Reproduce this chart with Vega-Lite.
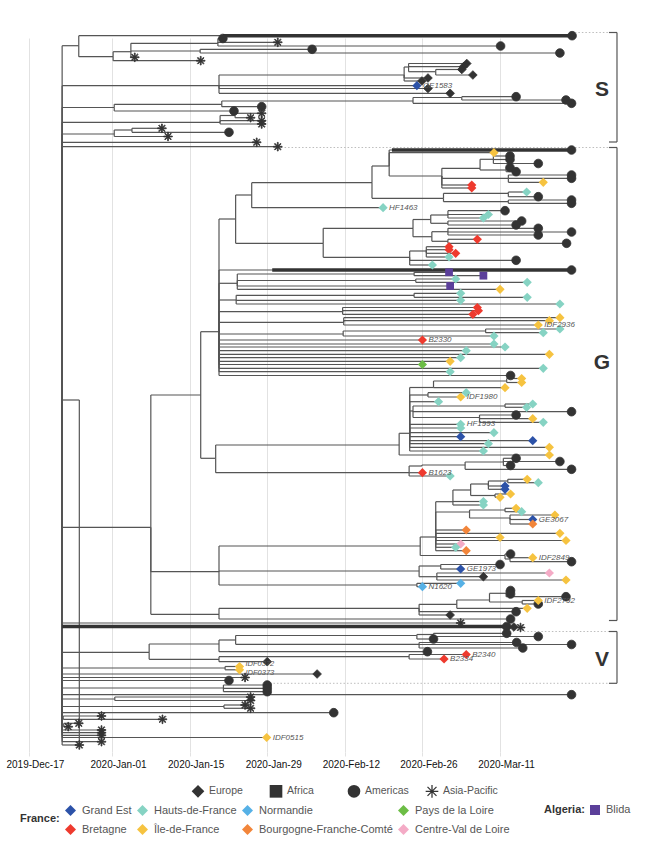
{
"$schema": "https://vega.github.io/schema/vega-lite/v6.json",
"width": 662, "height": 714,
"padding": {"left": 0, "top": 38, "right": 0, "bottom": 96},
"autosize": {"type": "none"},
"background": "white",
"config": {"view": {"stroke": null}, "font": "Liberation Sans"},
"datasets": {
"nodes": [
{"id":"R","d":6.0,"r":400},
{"id":"A","p":"R","d":9.0,"r":45.7},
{"p":"A","d":98.0,"r":35.7,"c":"Americas"},
{"id":"C","p":"A","d":15.2,"r":56.7},
{"id":"D","p":"C","d":18.4,"r":51.7},
{"id":"E","p":"D","d":34.1,"r":43.3},
{"p":"E","d":35.0,"r":38.5,"c":"Americas"},
{"p":"E","d":44.9,"r":42.3,"c":"Asia-Pacific"},
{"p":"E","d":85.1,"r":46,"c":"Americas"},
{"id":"F","p":"D","d":30.9,"r":51},
{"p":"F","d":51.1,"r":49.3,"c":"Americas"},
{"p":"F","d":95.8,"r":53,"c":"Americas"},
{"p":"D","d":19.1,"r":57.3,"c":"Asia-Pacific"},
{"p":"C","d":31.0,"r":60.7,"c":"Asia-Pacific"},
{"id":"G","p":"R","d":34.3,"r":85.7},
{"id":"H","p":"G","d":67.7,"r":75},
{"id":"I","p":"H","d":68.5,"r":67},
{"p":"I","d":79.0,"r":63.5,"c":"Europe"},
{"p":"I","d":78.4,"r":66.7,"c":"Europe"},
{"id":"J","p":"I","d":73.4,"r":71.7},
{"p":"J","d":78.1,"r":69.5,"c":"Europe"},
{"p":"J","d":80.1,"r":75,"c":"Europe"},
{"p":"H","d":72.0,"r":78,"c":"Europe"},
{"p":"H","d":70.9,"r":81,"c":"Europe"},
{"p":"G","d":70.0,"r":85.7,"c":"Europe","g":"Grand Est","lab":"GE1583"},
{"p":"G","d":72.0,"r":88.5,"c":"Europe"},
{"p":"G","d":76.0,"r":93.3,"c":"Europe"},
{"id":"L","p":"R","d":15.4,"r":107.5},
{"id":"M","p":"L","d":34.8,"r":104.3},
{"id":"K","p":"M","d":69.3,"r":101},
{"id":"K1","p":"K","d":78.1,"r":97.5},
{"p":"K1","d":87.9,"r":96.7,"c":"Americas"},
{"p":"K1","d":96.9,"r":100,"c":"Americas"},
{"p":"K","d":97.9,"r":103.3,"c":"Americas"},
{"p":"M","d":42.0,"r":106.7,"c":"Americas"},
{"p":"L","d":37.0,"r":111,"c":"Americas"},
{"id":"Nn","p":"R","d":34.5,"r":122.3},
{"id":"Nn1","p":"Nn","d":37.2,"r":115.5},
{"p":"Nn1","d":42.0,"r":113.3,"c":"Asia-Pacific"},
{"p":"Nn1","d":40.0,"r":117.7,"c":"Asia-Pacific"},
{"p":"Nn","d":42.0,"r":120.7,"c":"Asia-Pacific"},
{"p":"Nn","d":42.0,"r":124,"c":"Asia-Pacific"},
{"id":"P","p":"R","d":15.4,"r":134},
{"id":"Q","p":"P","d":18.6,"r":130},
{"p":"Q","d":24.0,"r":128.3,"c":"Asia-Pacific"},
{"p":"Q","d":36.1,"r":132.3,"c":"Americas"},
{"p":"P","d":25.1,"r":136.5,"c":"Asia-Pacific"},
{"p":"R","d":41.1,"r":142.3,"c":"Asia-Pacific"},
{"p":"R","d":44.9,"r":146.7,"c":"Asia-Pacific"},
{"id":"G0","p":"R","d":22.0,"r":527.3},
{"id":"G1","p":"G0","d":31.0,"r":395},
{"id":"G2","p":"G1","d":34.3,"r":331.7},
{"id":"G3","p":"G2","d":37.3,"r":219},
{"id":"G4","p":"G3","d":40.2,"r":195},
{"id":"G5","p":"G4","d":61.9,"r":182.7},
{"id":"G5a","p":"G5","d":65.0,"r":166},
{"p":"G5a","d":97.9,"r":150,"c":"Americas"},
{"p":"G5a","d":83.9,"r":152.7,"c":"Europe","g":"Île-de-France"},
{"id":"Na","p":"G5a","d":74.5,"r":176},
{"id":"Nb","p":"Na","d":81.4,"r":168.3},
{"id":"Nb1","p":"Nb","d":83.8,"r":159.3},
{"p":"Nb1","d":86.8,"r":156,"c":"Americas"},
{"p":"Nb1","d":86.8,"r":159.5,"c":"Americas"},
{"p":"Nb1","d":91.9,"r":163.5,"c":"Americas"},
{"id":"Nb2","p":"Nb","d":86.1,"r":170},
{"p":"Nb2","d":86.8,"r":167.5,"c":"Americas"},
{"p":"Nb2","d":87.9,"r":171.7,"c":"Americas"},
{"id":"Nc0","p":"Na","d":86.5,"r":178.3},
{"p":"Nc0","d":97.9,"r":175,"c":"Americas"},
{"p":"Nc0","d":97.9,"r":178.3,"c":"Americas"},
{"p":"Nc0","d":92.8,"r":182.3,"c":"Europe","g":"Île-de-France"},
{"p":"Na","d":79.9,"r":185,"c":"Europe","g":"Bretagne"},
{"p":"Na","d":79.9,"r":188,"c":"Europe","g":"Bretagne"},
{"id":"Nc","p":"G5","d":74.8,"r":198.3},
{"id":"Nd1","p":"Nc","d":86.5,"r":193.3},
{"p":"Nd1","d":89.8,"r":192,"c":"Europe","g":"Hauts-de-France"},
{"p":"Nd1","d":91.9,"r":196.7,"c":"Americas"},
{"id":"Nd2","p":"Nc","d":86.5,"r":201.7},
{"p":"Nd2","d":97.9,"r":200,"c":"Americas"},
{"p":"Nd2","d":97.9,"r":203.3,"c":"Americas"},
{"p":"G4","d":63.9,"r":207.7,"c":"Europe","g":"Hauts-de-France","lab":"HF1463"},
{"id":"G6","p":"G3","d":53.1,"r":243.3},
{"id":"Nd","p":"G6","d":69.3,"r":228.3},
{"id":"Ne","p":"Nd","d":72.5,"r":219.5},
{"id":"Ne1","p":"Ne","d":75.6,"r":215},
{"p":"Ne1","d":85.9,"r":210.7,"c":"Americas"},
{"p":"Ne1","d":82.9,"r":214.5,"c":"Europe","g":"Hauts-de-France"},
{"p":"Ne1","d":82.0,"r":218,"c":"Europe","g":"Hauts-de-France"},
{"id":"Ne2","p":"Ne","d":75.6,"r":223.3},
{"p":"Ne2","d":88.9,"r":221,"c":"Americas"},
{"p":"Ne2","d":87.9,"r":225,"c":"Americas"},
{"id":"Nf","p":"Nd","d":72.7,"r":236.7},
{"id":"Nf1","p":"Nf","d":75.6,"r":231.7},
{"p":"Nf1","d":91.9,"r":228.3,"c":"Americas"},
{"p":"Nf1","d":97.9,"r":232,"c":"Americas"},
{"p":"Nf1","d":91.9,"r":235,"c":"Americas"},
{"id":"Nf2","p":"Nf","d":75.6,"r":241.3},
{"p":"Nf2","d":80.9,"r":239.3,"c":"Europe","g":"Bretagne"},
{"p":"Nf2","d":97.0,"r":243.3,"c":"Americas"},
{"id":"Ng","p":"G6","d":68.7,"r":257.3},
{"id":"Ng1","p":"Ng","d":71.7,"r":251},
{"p":"Ng1","d":75.8,"r":246.7,"c":"Europe","g":"Bretagne"},
{"p":"Ng1","d":75.8,"r":249.7,"c":"Europe","g":"Bretagne"},
{"p":"Ng1","d":77.0,"r":253.3,"c":"Europe","g":"Bretagne"},
{"p":"Ng1","d":75.8,"r":257,"c":"Europe","g":"Hauts-de-France"},
{"p":"Ng","d":87.9,"r":260.3,"c":"Americas"},
{"p":"Ng","d":72.8,"r":265,"c":"Europe","g":"Hauts-de-France"},
{"p":"G2","d":97.9,"r":270,"c":"Americas"},
{"id":"Gb","p":"G2","d":37.6,"r":283.3},
{"id":"Gb1","p":"Gb","d":69.5,"r":274},
{"p":"Gb1","d":75.8,"r":272.3,"c":"Africa","g":"Blida"},
{"p":"Gb1","d":82.0,"r":275.7,"c":"Africa","g":"Blida"},
{"id":"Gb2","p":"Gb","d":69.8,"r":280.5},
{"p":"Gb2","d":77.0,"r":279,"c":"Europe","g":"Hauts-de-France"},
{"p":"Gb2","d":89.9,"r":282.3,"c":"Europe","g":"Hauts-de-France"},
{"p":"Gb","d":76.0,"r":286,"c":"Africa","g":"Blida"},
{"p":"Gb","d":85.0,"r":289.3,"c":"Europe","g":"Île-de-France"},
{"id":"Gc","p":"G2","d":37.4,"r":300},
{"id":"Gc1","p":"Gc","d":69.5,"r":295.3},
{"p":"Gc1","d":77.9,"r":293.3,"c":"Europe","g":"Hauts-de-France"},
{"p":"Gc1","d":89.9,"r":297.3,"c":"Europe","g":"Hauts-de-France"},
{"p":"Gc","d":77.9,"r":300.3,"c":"Europe","g":"Hauts-de-France"},
{"p":"Gc","d":95.8,"r":304,"c":"Europe","g":"Hauts-de-France"},
{"id":"Gd","p":"G2","d":56.6,"r":311.7},
{"p":"Gd","d":80.9,"r":307.5,"c":"Europe","g":"Bretagne"},
{"p":"Gd","d":81.1,"r":310.7,"c":"Europe","g":"Bretagne"},
{"p":"Gd","d":80.1,"r":314.3,"c":"Europe","g":"Bretagne"},
{"id":"Ge","p":"G2","d":56.8,"r":322.3},
{"p":"Ge","d":95.8,"r":317.7,"c":"Europe","g":"Île-de-France"},
{"p":"Ge","d":93.9,"r":320.7,"c":"Europe","g":"Île-de-France"},
{"p":"Ge","d":91.9,"r":325,"c":"Europe","g":"Île-de-France","lab":"IDF2936"},
{"id":"Gf","p":"G2","d":56.7,"r":334},
{"id":"Gf1","p":"Gf","d":82.4,"r":331},
{"p":"Gf1","d":95.8,"r":329,"c":"Europe","g":"Hauts-de-France"},
{"p":"Gf1","d":92.8,"r":332.7,"c":"Europe","g":"Hauts-de-France"},
{"p":"Gf","d":83.9,"r":336,"c":"Europe","g":"Hauts-de-France"},
{"p":"G2","d":71.0,"r":340,"c":"Europe","g":"Bretagne","lab":"B2330"},
{"p":"G2","d":83.9,"r":344,"c":"Europe","g":"Hauts-de-France"},
{"p":"G2","d":85.9,"r":347,"c":"Europe","g":"Hauts-de-France"},
{"p":"G2","d":78.9,"r":350.7,"c":"Europe","g":"Hauts-de-France"},
{"p":"G2","d":93.9,"r":354.3,"c":"Europe","g":"Île-de-France"},
{"p":"G2","d":77.9,"r":357.7,"c":"Europe","g":"Hauts-de-France"},
{"p":"G2","d":76.0,"r":361.3,"c":"Europe","g":"Île-de-France"},
{"p":"G2","d":71.0,"r":364.5,"c":"Europe","g":"Pays de la Loire"},
{"p":"G2","d":92.8,"r":368.3,"c":"Europe","g":"Hauts-de-France"},
{"p":"G2","d":76.0,"r":371.7,"c":"Europe","g":"Hauts-de-France"},
{"p":"G2","d":86.9,"r":375.5,"c":"Americas"},
{"id":"G7","p":"G1","d":33.7,"r":458.3},
{"id":"G7a","p":"G7","d":66.8,"r":445},
{"id":"N1x","p":"G7a","d":68.7,"r":433.3},
{"id":"N1a","p":"N1x","d":73.0,"r":387.5},
{"id":"N1a1","p":"N1a","d":86.2,"r":381},
{"p":"N1a1","d":88.9,"r":378.5,"c":"Europe","g":"Île-de-France"},
{"p":"N1a1","d":88.9,"r":382.5,"c":"Europe","g":"Île-de-France"},
{"p":"N1a","d":85.9,"r":387.7,"c":"Europe","g":"Île-de-France"},
{"id":"N1b","p":"N1x","d":72.0,"r":395},
{"p":"N1b","d":78.9,"r":392.7,"c":"Europe","g":"Hauts-de-France"},
{"p":"N1b","d":77.9,"r":397,"c":"Europe","g":"Île-de-France","lab":"IDF1980"},
{"p":"N1x","d":73.9,"r":401.7,"c":"Europe","g":"Hauts-de-France"},
{"id":"N1c","p":"N1x","d":69.3,"r":411},
{"id":"N1c1","p":"N1c","d":85.9,"r":406},
{"p":"N1c1","d":90.9,"r":404,"c":"Europe","g":"Hauts-de-France"},
{"p":"N1c1","d":89.8,"r":407.3,"c":"Europe","g":"Hauts-de-France"},
{"p":"N1c","d":97.9,"r":411.7,"c":"Americas"},
{"id":"N1c2","p":"N1c","d":81.3,"r":417.5},
{"p":"N1c2","d":87.9,"r":415,"c":"Americas"},
{"p":"N1c2","d":90.9,"r":418.7,"c":"Europe","g":"Île-de-France"},
{"p":"N1c2","d":92.8,"r":422.3,"c":"Europe","g":"Hauts-de-France"},
{"p":"N1x","d":77.9,"r":424.3,"c":"Europe","g":"Hauts-de-France","lab":"HF1993"},
{"p":"N1x","d":77.9,"r":428,"c":"Europe","g":"Hauts-de-France"},
{"p":"N1x","d":83.9,"r":432.7,"c":"Europe","g":"Hauts-de-France"},
{"p":"N1x","d":77.9,"r":436.7,"c":"Europe","g":"Grand Est"},
{"p":"N1x","d":90.9,"r":440.7,"c":"Europe","g":"Grand Est"},
{"p":"N1x","d":82.9,"r":443.7,"c":"Europe","g":"Hauts-de-France"},
{"p":"N1x","d":93.9,"r":447.3,"c":"Europe","g":"Île-de-France"},
{"p":"N1x","d":82.0,"r":451,"c":"Europe","g":"Hauts-de-France"},
{"p":"G7a","d":93.9,"r":455,"c":"Europe","g":"Île-de-France"},
{"id":"N2","p":"G7","d":68.6,"r":472.7},
{"id":"N2a","p":"N2","d":70.9,"r":466},
{"id":"N2b","p":"N2a","d":78.7,"r":465},
{"id":"N2c","p":"N2b","d":85.6,"r":462},
{"p":"N2c","d":87.9,"r":458.3,"c":"Americas"},
{"p":"N2c","d":95.8,"r":461.5,"c":"Americas"},
{"p":"N2c","d":86.9,"r":465.5,"c":"Americas"},
{"p":"N2b","d":97.9,"r":469.3,"c":"Americas"},
{"p":"N2","d":71.0,"r":472.7,"c":"Europe","g":"Bretagne","lab":"B1623"},
{"p":"N2","d":76.0,"r":476,"c":"Europe","g":"Hauts-de-France"},
{"id":"G8","p":"G0","d":34.3,"r":571.7},
{"id":"CL","p":"G8","d":70.6,"r":546},
{"id":"CL1","p":"CL","d":73.4,"r":537},
{"id":"CL2","p":"CL1","d":76.5,"r":501.7},
{"id":"CL3","p":"CL2","d":79.7,"r":490},
{"id":"CL4","p":"CL3","d":82.9,"r":484},
{"id":"CL4a","p":"CL4","d":86.4,"r":481},
{"p":"CL4a","d":89.9,"r":479.3,"c":"Europe","g":"Île-de-France"},
{"p":"CL4a","d":91.9,"r":482.7,"c":"Europe","g":"Hauts-de-France"},
{"p":"CL4","d":85.9,"r":486,"c":"Europe","g":"Grand Est"},
{"p":"CL4","d":85.9,"r":489.3,"c":"Europe","g":"Grand Est"},
{"id":"CL3b","p":"CL3","d":84.1,"r":495.5},
{"p":"CL3b","d":86.9,"r":494,"c":"Europe","g":"Île-de-France"},
{"p":"CL3b","d":85.0,"r":497.3,"c":"Europe","g":"Île-de-France"},
{"p":"CL2","d":82.0,"r":501.5,"c":"Europe","g":"Hauts-de-France"},
{"p":"CL2","d":82.0,"r":505,"c":"Europe","g":"Hauts-de-France"},
{"id":"CL5","p":"CL1","d":79.5,"r":512},
{"id":"CL5a","p":"CL5","d":85.9,"r":510},
{"p":"CL5a","d":87.9,"r":508.3,"c":"Europe","g":"Île-de-France"},
{"p":"CL5a","d":88.9,"r":511.7,"c":"Europe","g":"Hauts-de-France"},
{"id":"CL5b","p":"CL5","d":86.8,"r":518},
{"p":"CL5b","d":94.9,"r":515,"c":"Europe","g":"Île-de-France"},
{"p":"CL5b","d":90.9,"r":519.5,"c":"Europe","g":"Grand Est","lab":"GE3067"},
{"p":"CL5b","d":90.9,"r":524,"c":"Europe","g":"Bourgogne-Franche-Comté"},
{"p":"CL1","d":78.9,"r":530,"c":"Europe","g":"Bourgogne-Franche-Comté"},
{"p":"CL1","d":95.8,"r":533.3,"c":"Europe","g":"Île-de-France"},
{"p":"CL1","d":85.0,"r":537.5,"c":"Europe","g":"Île-de-France"},
{"p":"CL1","d":96.9,"r":540.5,"c":"Europe","g":"Île-de-France"},
{"p":"CL1","d":77.9,"r":544,"c":"Europe","g":"Centre-Val de Loire"},
{"p":"CL1","d":77.0,"r":547.3,"c":"Europe","g":"Hauts-de-France"},
{"p":"CL1","d":78.9,"r":550.7,"c":"Europe","g":"Bourgogne-Franche-Comté"},
{"id":"CL7","p":"CL","d":85.9,"r":555.5},
{"p":"CL7","d":86.9,"r":554,"c":"Americas"},
{"id":"CL7a","p":"CL7","d":86.8,"r":559},
{"p":"CL7a","d":90.9,"r":557.7,"c":"Europe","g":"Île-de-France","lab":"IDF2849"},
{"p":"CL7a","d":97.9,"r":561.7,"c":"Americas"},
{"id":"Gx","p":"G8","d":70.4,"r":571},
{"id":"Gx1","p":"Gx","d":74.3,"r":566},
{"p":"Gx1","d":85.0,"r":564.5,"c":"Americas"},
{"p":"Gx1","d":77.9,"r":569,"c":"Europe","g":"Grand Est","lab":"GE1973"},
{"id":"Gx2","p":"Gx","d":73.6,"r":576.7},
{"p":"Gx2","d":93.9,"r":573,"c":"Europe","g":"Centre-Val de Loire"},
{"p":"Gx2","d":82.0,"r":576.7,"c":"Europe"},
{"p":"Gx2","d":96.9,"r":580,"c":"Europe","g":"Île-de-France"},
{"id":"GN","p":"G8","d":70.0,"r":585},
{"p":"GN","d":77.9,"r":583.3,"c":"Europe","g":"Normandie"},
{"p":"GN","d":71.0,"r":586.7,"c":"Europe","g":"Normandie","lab":"N1620"},
{"id":"G9","p":"G0","d":34.3,"r":614.3},
{"id":"GH","p":"G9","d":70.4,"r":608.3},
{"id":"GH1","p":"GH","d":77.2,"r":604.3},
{"id":"GH2","p":"GH1","d":83.1,"r":600},
{"id":"GH3","p":"GH2","d":86.1,"r":593.3},
{"p":"GH3","d":86.9,"r":590.5,"c":"Americas"},
{"p":"GH3","d":86.9,"r":594,"c":"Americas"},
{"p":"GH3","d":96.9,"r":596.7,"c":"Americas"},
{"id":"GH4","p":"GH2","d":89.0,"r":602},
{"p":"GH4","d":91.9,"r":600.5,"c":"Europe","g":"Île-de-France","lab":"IDF2792"},
{"p":"GH4","d":91.9,"r":604,"c":"Americas"},
{"p":"GH1","d":89.9,"r":608.3,"c":"Europe","g":"Île-de-France"},
{"p":"GH","d":87.9,"r":611.7,"c":"Americas"},
{"p":"GH","d":76.0,"r":615,"c":"Europe"},
{"p":"G9","d":86.9,"r":619,"c":"Americas"},
{"p":"R","d":77.9,"r":623,"c":"Asia-Pacific"},
{"p":"R","d":86.2,"r":626.5,"c":"Americas"},
{"p":"R","d":87.5,"r":627,"c":"Europe"},
{"p":"R","d":88.7,"r":627.5,"c":"Asia-Pacific"},
{"id":"V0","p":"R","d":21.7,"r":652.3},
{"id":"V1","p":"V0","d":34.3,"r":644},
{"id":"V2","p":"V1","d":37.3,"r":640},
{"id":"V3","p":"V2","d":70.0,"r":635.5},
{"id":"V3a","p":"V3","d":73.0,"r":634.5},
{"p":"V3a","d":86.2,"r":633.3,"c":"Americas"},
{"p":"V3a","d":91.9,"r":636.5,"c":"Americas"},
{"p":"V3","d":73.0,"r":639,"c":"Americas"},
{"id":"V4","p":"V2","d":70.4,"r":644.3},
{"p":"V4","d":88.0,"r":642.5,"c":"Americas"},
{"p":"V4","d":97.9,"r":644.5,"c":"Americas"},
{"p":"V4","d":89.1,"r":648,"c":"Americas"},
{"p":"V1","d":71.9,"r":651.7,"c":"Americas"},
{"id":"V5","p":"V0","d":34.3,"r":659.3},
{"id":"V6","p":"V5","d":68.6,"r":656.7},
{"p":"V6","d":78.9,"r":654.5,"c":"Europe","g":"Bretagne","lab":"B2340"},
{"p":"V6","d":74.9,"r":659,"c":"Europe","g":"Bretagne","lab":"B2334"},
{"p":"V5","d":43.0,"r":661.7,"c":"Europe"},
{"id":"VI","p":"R","d":35.4,"r":668},
{"p":"VI","d":38.0,"r":666.5,"c":"Europe","g":"Île-de-France","lab":"IDF0372"},
{"p":"VI","d":38.0,"r":669.8,"c":"Europe","g":"Île-de-France","lab":"IDF0373"},
{"p":"R","d":52.0,"r":674,"c":"Europe"},
{"p":"R","d":39.0,"r":677.5,"c":"Asia-Pacific"},
{"p":"R","d":36.1,"r":680.5,"c":"Americas"},
{"id":"VJ","p":"R","d":35.1,"r":688},
{"p":"VJ","d":43.0,"r":685,"c":"Americas"},
{"p":"VJ","d":43.0,"r":688.3,"c":"Americas"},
{"p":"VJ","d":43.0,"r":691.7,"c":"Americas"},
{"p":"R","d":97.9,"r":694.7,"c":"Americas"},
{"id":"VK","p":"R","d":15.5,"r":699},
{"p":"VK","d":40.0,"r":697,"c":"Asia-Pacific"},
{"p":"VK","d":40.0,"r":700.5,"c":"Asia-Pacific"},
{"id":"VL","p":"R","d":35.2,"r":706.5},
{"p":"VL","d":39.0,"r":705,"c":"Asia-Pacific"},
{"p":"VL","d":40.0,"r":708.3,"c":"Asia-Pacific"},
{"p":"R","d":55.0,"r":712.7,"c":"Americas"},
{"id":"VM","p":"R","d":6.2,"r":717.5},
{"p":"VM","d":13.1,"r":716,"c":"Asia-Pacific"},
{"p":"VM","d":24.1,"r":719.3,"c":"Asia-Pacific"},
{"id":"VN","p":"R","d":6.3,"r":725},
{"p":"VN","d":9.0,"r":723.3,"c":"Asia-Pacific"},
{"p":"VN","d":7.1,"r":726.7,"c":"Asia-Pacific"},
{"p":"R","d":13.1,"r":730,"c":"Asia-Pacific"},
{"p":"R","d":13.1,"r":732.7,"c":"Asia-Pacific"},
{"p":"R","d":13.1,"r":735.3,"c":"Asia-Pacific"},
{"p":"R","d":42.9,"r":737.5,"c":"Europe","g":"Île-de-France","lab":"IDF0515"},
{"p":"R","d":13.1,"r":741.7,"c":"Asia-Pacific"},
{"p":"R","d":9.1,"r":745,"c":"Asia-Pacific"}
],
"collapsed": [
{"x1":35.0,"x2":98.0,"r":35.7},
{"x1":65.5,"x2":97.9,"r":150},
{"x1":43.9,"x2":97.9,"r":270},
{"x1":6.0,"x2":86.2,"r":626.5}
],
"seps": [
{"x1":98.5,"r":32.5},
{"x1":45.5,"r":147.5},
{"x1":89.3,"r":631.5},
{"x1":43.5,"r":683.3}
],
"clades": [
{"name":"S","top":32.5,"bot":142,"mid":90},
{"name":"G","top":147.5,"bot":620.5,"mid":363},
{"name":"V","top":631.5,"bot":683.3,"mid":660}
]
},
"resolve": {"scale": {"color": "independent"}, "axis": {"x": "independent", "y": "independent"}},
"layer": [
{
"data": {"name": "nodes"},
"transform": [
{"lookup": "p", "from": {"data": {"name": "nodes"}, "key": "id", "fields": ["d", "r"]}, "as": ["pd", "pr"]},
{"filter": "isValid(datum.pd)"}
],
"mark": {"type": "rule", "color": "#555555", "strokeWidth": 1.2},
"encoding": {
"x": {"field": "pd", "type": "quantitative",
"scale": {"domain": [-5.21, 114.22], "nice": false, "zero": false},
"axis": {"values": [0, 15, 29, 43, 57, 71, 85],
"labelExpr": "timeFormat(datetime(2019, 11, 17 + datum.value), '%Y-%b-%d')",
"grid": true, "gridColor": "#e2e2e2", "gridWidth": 1, "domain": false,
"ticks": true, "tickColor": "#e2e2e2", "tickSize": 4,
"labelFontSize": 10, "labelColor": "#111111", "labelFont": "Liberation Sans",
"labelPadding": 3, "labelOffset": 6, "title": null}},
"x2": {"field": "d"},
"y": {"field": "r", "type": "quantitative", "scale": {"domain": [38, 752], "reverse": true, "nice": false, "zero": false}, "axis": null}
}
},
{
"data": {"name": "nodes"},
"transform": [
{"lookup": "p", "from": {"data": {"name": "nodes"}, "key": "id", "fields": ["d", "r"]}, "as": ["pd", "pr"]},
{"filter": "isValid(datum.pd)"}
],
"mark": {"type": "rule", "color": "#555555", "strokeWidth": 1.2},
"encoding": {
"x": {"field": "pd", "type": "quantitative", "axis": null},
"y": {"field": "pr", "type": "quantitative", "axis": null},
"y2": {"field": "r"}
}
},
{
"data": {"name": "collapsed"},
"mark": {"type": "rule", "color": "#333333", "strokeWidth": 3.5},
"encoding": {
"x": {"field": "x1", "type": "quantitative", "axis": null},
"x2": {"field": "x2"},
"y": {"field": "r", "type": "quantitative", "axis": null}
}
},
{
"data": {"name": "seps"},
"mark": {"type": "rule", "color": "#bdbdbd", "strokeWidth": 1, "strokeDash": [1.5, 2]},
"encoding": {
"x": {"field": "x1", "type": "quantitative", "axis": null},
"x2": {"datum": 104.65},
"y": {"field": "r", "type": "quantitative", "axis": null}
}
},
{
"data": {"name": "clades"},
"mark": {"type": "rule", "color": "#555555", "strokeWidth": 1.2},
"encoding": {
"x": {"datum": 106.1, "type": "quantitative", "axis": null},
"y": {"field": "top", "type": "quantitative", "axis": null},
"y2": {"field": "bot"}
}
},
{
"data": {"name": "clades"},
"mark": {"type": "rule", "color": "#555555", "strokeWidth": 1.2},
"encoding": {
"x": {"datum": 104.65, "type": "quantitative", "axis": null},
"x2": {"datum": 106.1},
"y": {"field": "top", "type": "quantitative", "axis": null}
}
},
{
"data": {"name": "clades"},
"mark": {"type": "rule", "color": "#555555", "strokeWidth": 1.2},
"encoding": {
"x": {"datum": 104.65, "type": "quantitative", "axis": null},
"x2": {"datum": 106.1},
"y": {"field": "bot", "type": "quantitative", "axis": null}
}
},
{
"data": {"name": "nodes"},
"transform": [{"filter": "datum.c && !datum.g"}],
"mark": {"type": "point", "filled": true, "fill": "#333333", "stroke": "#333333", "strokeWidth": 0.8, "size": 75, "opacity": 1},
"encoding": {
"x": {"field": "d", "type": "quantitative", "axis": null},
"y": {"field": "r", "type": "quantitative", "axis": null},
"shape": {"field": "c", "type": "nominal",
"scale": {"domain": ["Europe", "Africa", "Americas", "Asia-Pacific"],
"range": ["diamond", "square", "circle", "M-0.1,-1L0.1,-1L0.1,1L-0.1,1ZM-1,-0.1L1,-0.1L1,0.1L-1,0.1ZM-0.64,-0.78L0.78,0.64L0.64,0.78L-0.78,-0.64ZM-0.78,0.64L0.64,-0.78L0.78,-0.64L-0.64,0.78Z"]},
"legend": {"title": null, "orient": "none", "legendX": 191, "legendY": 746, "direction": "horizontal",
"gridAlign": "all", "columnPadding": 3, "symbolSize": 160, "symbolFillColor": "#333333", "symbolStrokeColor": "#333333",
"symbolStrokeWidth": 1, "labelFontSize": 10.5, "labelColor": "#555555", "labelFont": "Liberation Sans", "labelOffset": 4}}
}
},
{
"data": {"name": "nodes"},
"transform": [{"filter": "datum.g && datum.g != 'Blida'"}],
"mark": {"type": "point", "filled": true, "shape": "diamond", "size": 85, "opacity": 1},
"encoding": {
"x": {"field": "d", "type": "quantitative", "axis": null},
"y": {"field": "r", "type": "quantitative", "axis": null},
"color": {"field": "g", "type": "nominal",
"scale": {"domain": ["Grand Est", "Hauts-de-France", "Normandie", "Pays de la Loire", "Bretagne", "Île-de-France", "Bourgogne-Franche-Comté", "Centre-Val de Loire"],
"range": ["#2c52a8", "#86d3c3", "#56b1e6", "#6cbd45", "#ee3a2e", "#f6c340", "#f2853a", "#f4abc6"]},
"legend": {"title": "France:", "orient": "none", "legendX": 20, "legendY": 766, "direction": "horizontal", "columns": 4,
"titleOrient": "left", "titleFontSize": 11, "titleFontWeight": "bold", "titleColor": "#333333", "titleFont": "Liberation Sans", "titlePadding": 4,
"labelFontSize": 11, "labelColor": "#555555", "labelFont": "Liberation Sans", "symbolType": "diamond", "symbolSize": 120,
"rowPadding": 7, "columnPadding": 4, "labelOffset": 5}}
}
},
{
"data": {"name": "nodes"},
"transform": [{"filter": "datum.g == 'Blida'"}],
"mark": {"type": "point", "filled": true, "shape": "square", "size": 60, "opacity": 1},
"encoding": {
"x": {"field": "d", "type": "quantitative", "axis": null},
"y": {"field": "r", "type": "quantitative", "axis": null},
"color": {"field": "g", "type": "nominal",
"scale": {"domain": ["Blida"], "range": ["#5b3f9a"]},
"legend": {"title": "Algeria:", "orient": "none", "legendX": 544, "legendY": 766,
"titleOrient": "left", "titleFontSize": 11, "titleFontWeight": "bold", "titleColor": "#333333", "titleFont": "Liberation Sans", "titlePadding": 4,
"labelFontSize": 11, "labelColor": "#555555", "labelFont": "Liberation Sans", "symbolType": "square", "symbolSize": 100, "labelOffset": 5}}
}
},
{
"data": {"name": "nodes"},
"transform": [{"filter": "datum.lab && datum.lab != 'IDF0372' && datum.lab != 'IDF0373'"}],
"mark": {"type": "text", "align": "left", "baseline": "middle", "dx": 6, "fontSize": 8, "fontStyle": "italic", "color": "#555555", "font": "Liberation Sans"},
"encoding": {
"x": {"field": "d", "type": "quantitative", "axis": null},
"y": {"field": "r", "type": "quantitative", "axis": null},
"text": {"field": "lab"}
}
},
{
"data": {"name": "nodes"},
"transform": [{"filter": "datum.lab == 'IDF0372'"}],
"mark": {"type": "text", "align": "left", "baseline": "bottom", "dx": 6, "dy": 1.5, "fontSize": 7.5, "fontStyle": "italic", "color": "#555555", "font": "Liberation Sans"},
"encoding": {
"x": {"field": "d", "type": "quantitative", "axis": null},
"y": {"field": "r", "type": "quantitative", "axis": null},
"text": {"field": "lab"}
}
},
{
"data": {"name": "nodes"},
"transform": [{"filter": "datum.lab == 'IDF0373'"}],
"mark": {"type": "text", "align": "left", "baseline": "top", "dx": 6, "dy": -1, "fontSize": 7.5, "fontStyle": "italic", "color": "#555555", "font": "Liberation Sans"},
"encoding": {
"x": {"field": "d", "type": "quantitative", "axis": null},
"y": {"field": "r", "type": "quantitative", "axis": null},
"text": {"field": "lab"}
}
},
{
"data": {"name": "clades"},
"mark": {"type": "text", "align": "center", "baseline": "middle", "fontSize": 21, "fontWeight": "bold", "color": "#333333", "font": "Liberation Sans"},
"encoding": {
"x": {"datum": 103.4, "type": "quantitative", "axis": null},
"y": {"field": "mid", "type": "quantitative", "axis": null},
"text": {"field": "name"}
}
}
]
}
